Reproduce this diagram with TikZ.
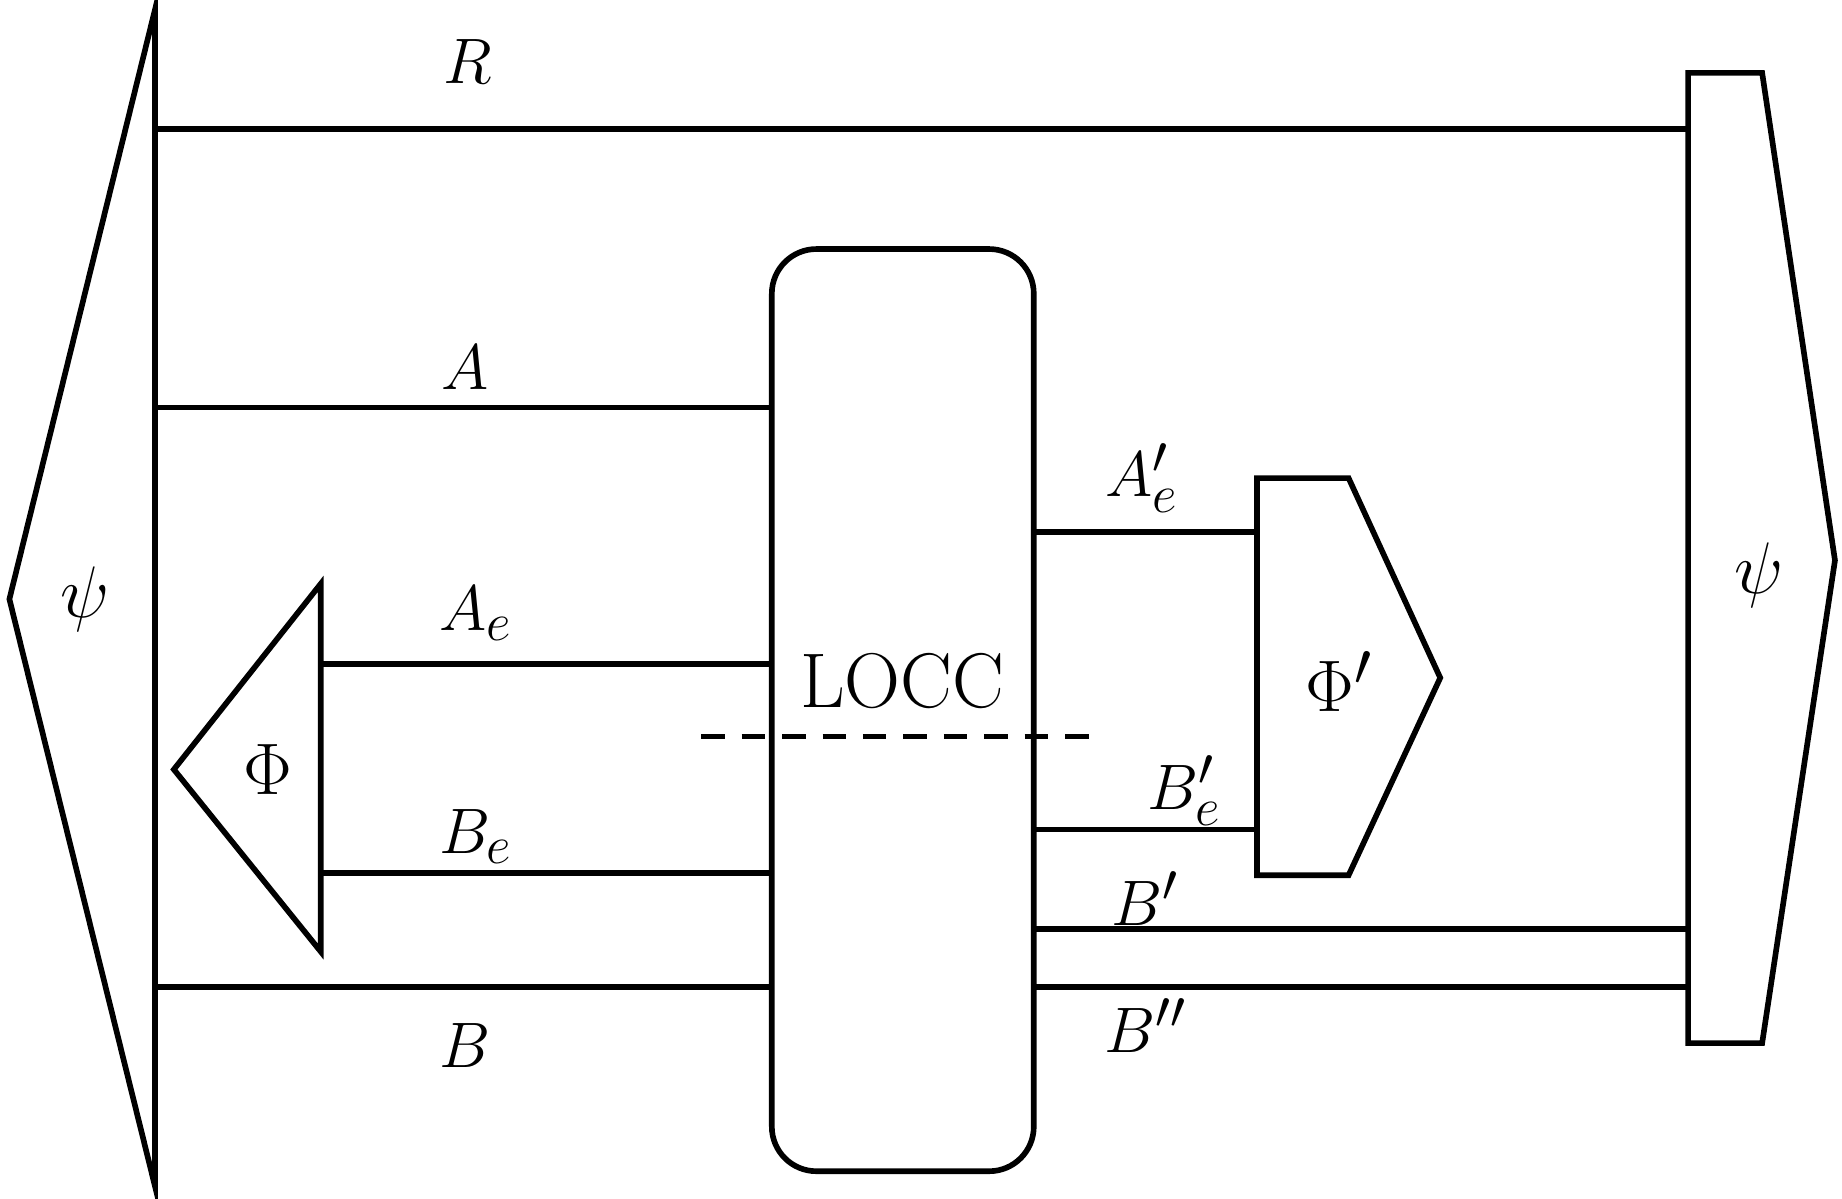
\documentclass[tikz,border=0pt]{standalone}
\begin{document}
\begin{tikzpicture}[x=0.5pt,y=-0.5pt,
  wire/.style={line width=2.4pt},
  shp/.style={line width=2.4pt,line join=miter},
  lbl/.style={inner sep=0pt,font=\Huge,scale=1.1},
  grk/.style={inner sep=0pt,font=\Huge,scale=1.25},
  biglbl/.style={inner sep=0pt,font=\fontsize{33}{36}\selectfont}]
\useasboundingbox (0,0) rectangle (1568,1020.6);
% left psi
\coordinate (lpT) at (132,8);
\coordinate (lpB) at (132,1010);
\coordinate (lpX) at (8,510);
\draw[shp] (lpT) -- (lpX) -- (lpB) -- cycle;
\node[grk] (lpsi) at (72,510) {$\psi$};
% right psi
\coordinate (rp1) at (1437,62);
\coordinate (rp2) at (1500,62);
\coordinate (rp3) at (1562,477);
\coordinate (rp4) at (1500,888);
\coordinate (rp5) at (1437,888);
\draw[shp] (rp1) -- (rp2) -- (rp3) -- (rp4) -- (rp5) -- cycle;
\node[grk] (rpsi) at (1497,490) {$\psi$};
% LOCC
\draw[shp,rounded corners=19pt] (657,212) rectangle (880,997);
\node[biglbl] (locc) at (768,580) {LOCC};
% Phi
\coordinate (fT) at (273,497);
\coordinate (fB) at (273,810);
\coordinate (fX) at (148,655);
\draw[shp] (fT) -- (fX) -- (fB) -- cycle;
\node[grk] (phi) at (228,655) {$\Phi$};
% Phi'
\coordinate (g1) at (1070,407);
\coordinate (g2) at (1148,407);
\coordinate (g3) at (1226,577);
\coordinate (g4) at (1148,745);
\coordinate (g5) at (1070,745);
\draw[shp] (g1) -- (g2) -- (g3) -- (g4) -- (g5) -- cycle;
\node[grk] (phip) at (1140,580) {$\Phi'$};
% wires
\coordinate (r0) at (132,110); \coordinate (r1) at (1437,110);
\draw[wire] (r0) -- (r1);
\node[lbl] (lR1) at (398,52) {$R$};
\coordinate (a0) at (132,347); \coordinate (a1) at (657,347);
\draw[wire] (a0) -- (a1);
\node[lbl] (lA) at (396,313) {$A$};
\coordinate (ae0) at (273,565); \coordinate (ae1) at (657,565);
\draw[wire] (ae0) -- (ae1);
\node[lbl] (lAe) at (405,522) {$A_e$};
\coordinate (be0) at (273,743); \coordinate (be1) at (657,743);
\draw[wire] (be0) -- (be1);
\node[lbl] (lBe) at (405,712) {$B_e$};
\coordinate (b0) at (132,840); \coordinate (b1) at (657,840);
\draw[wire] (b0) -- (b1);
\node[lbl] (lB) at (396,890) {$B$};
\coordinate (d0) at (597,627); \coordinate (d1) at (927,627);
\draw[wire,dash pattern=on 10pt off 7.2pt] (d0) -- (d1);
\coordinate (aep0) at (880,453); \coordinate (aep1) at (1070,453);
\draw[wire] (aep0) -- (aep1);
\node[lbl] (lAep) at (972,407) {$A'_e$};
\coordinate (bep0) at (880,706); \coordinate (bep1) at (1070,706);
\draw[wire] (bep0) -- (bep1);
\node[lbl] (lBep) at (1008,673) {$B'_e$};
\coordinate (bp0) at (880,791); \coordinate (bp1) at (1437,791);
\draw[wire] (bp0) -- (bp1);
\node[lbl] (lBp) at (975,765) {$B'$};
\coordinate (bpp0) at (880,840); \coordinate (bpp1) at (1437,840);
\draw[wire] (bpp0) -- (bpp1);
\node[lbl] (lBpp) at (975,873) {$B''$};
\end{tikzpicture}
\end{document}
